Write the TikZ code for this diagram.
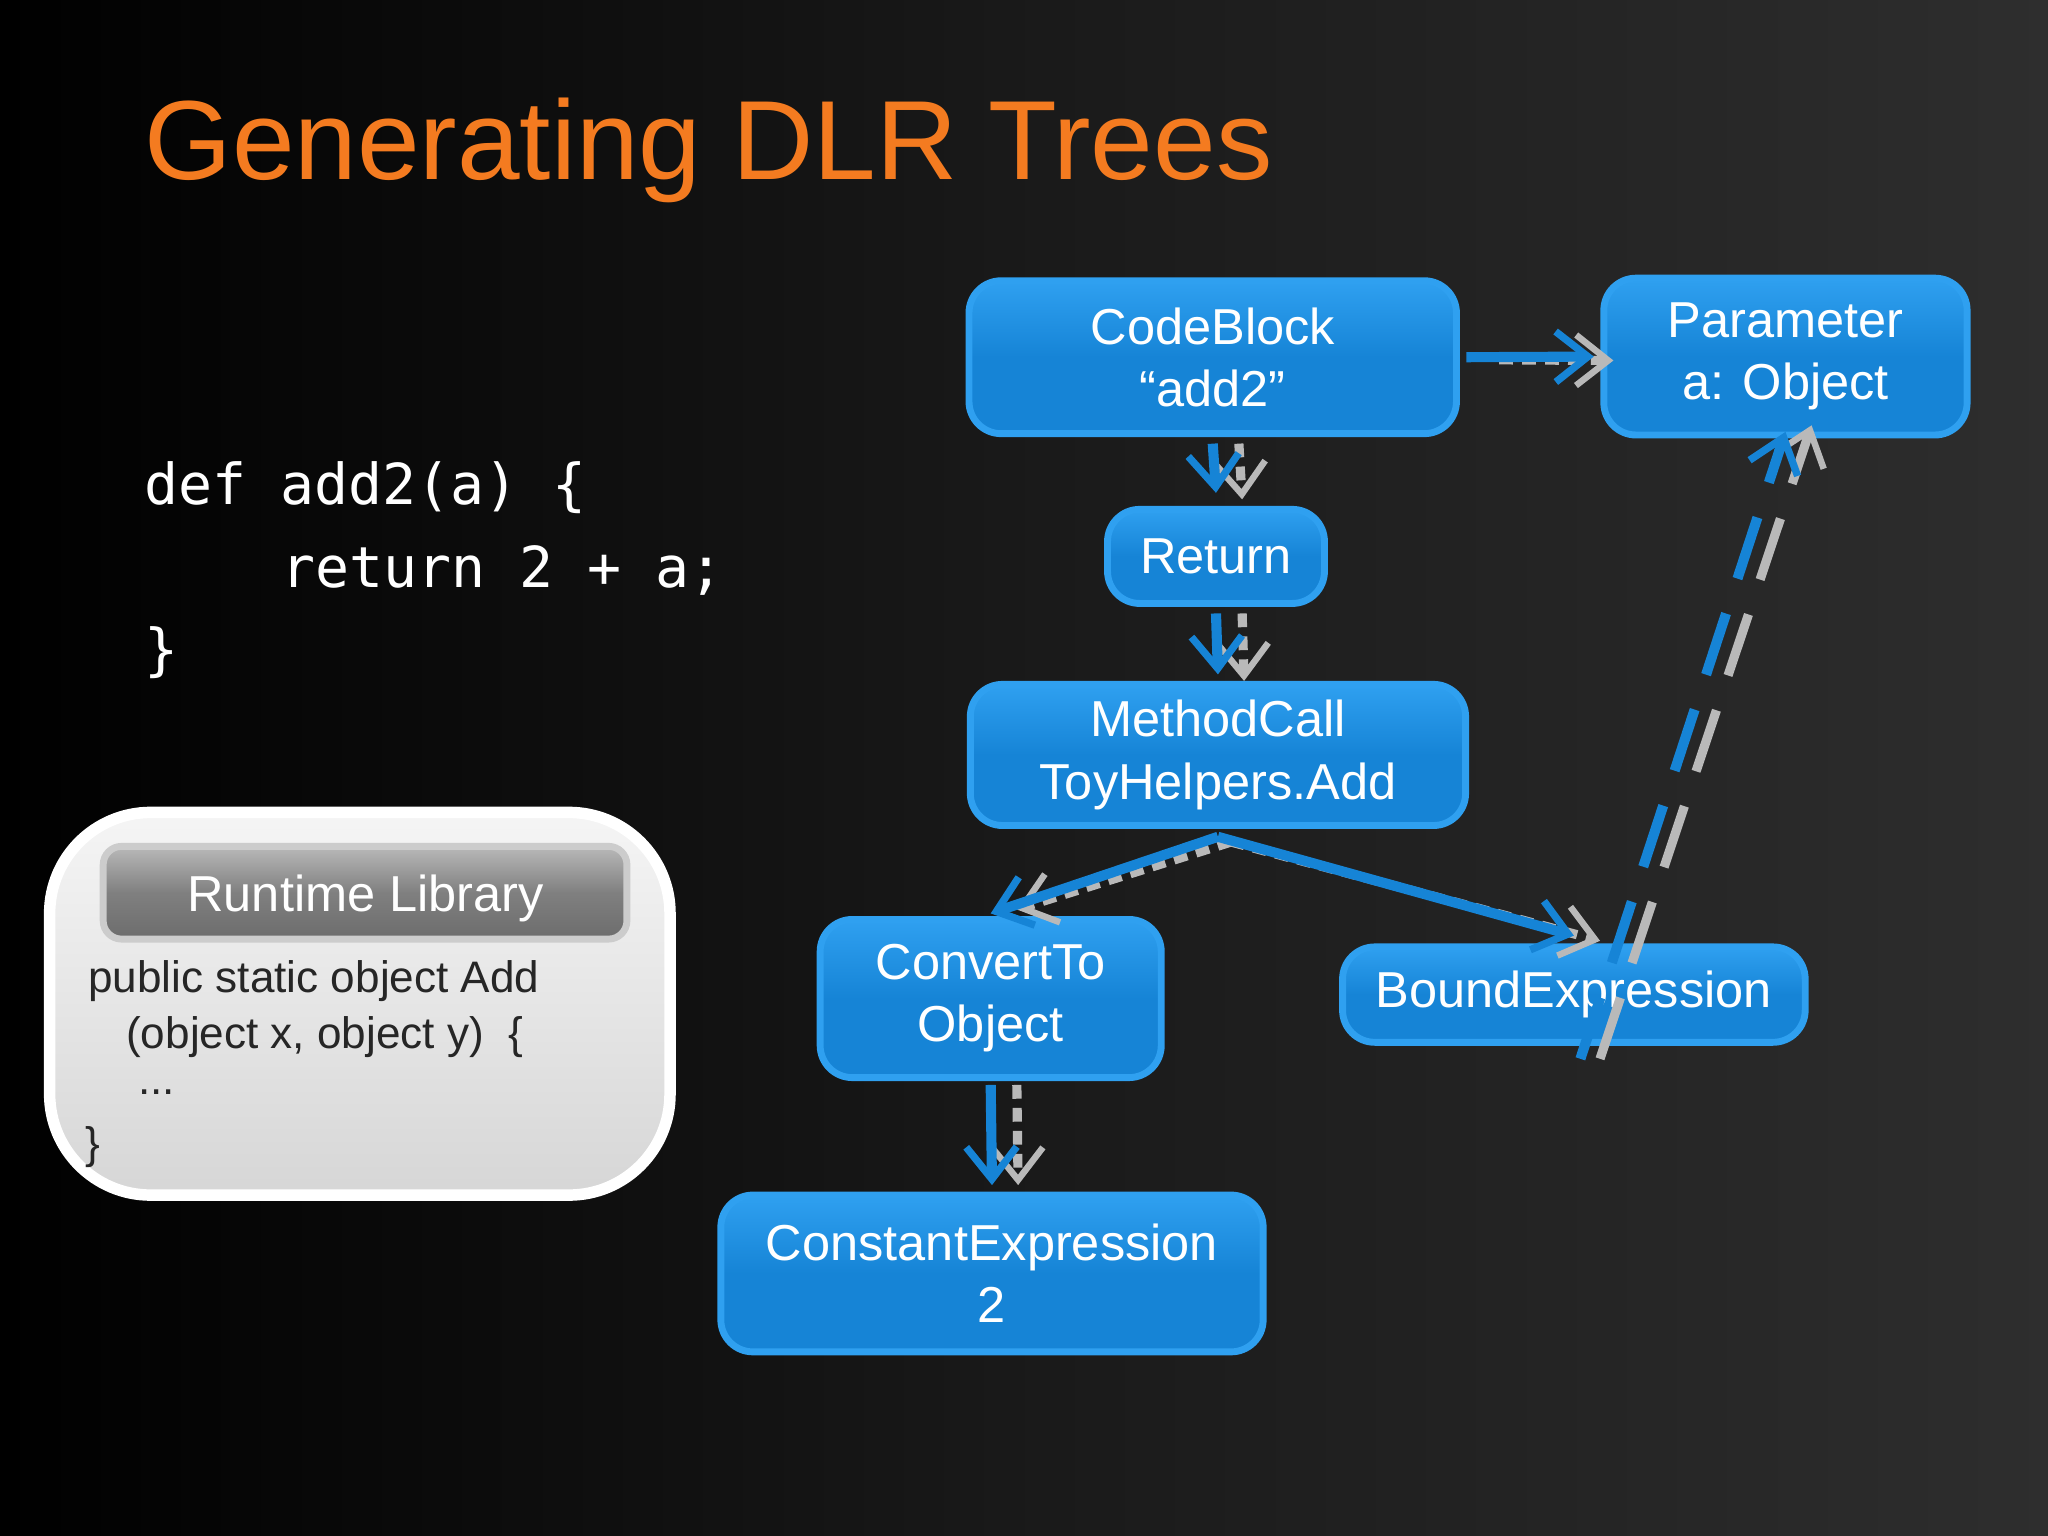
\documentclass[tikz,border=0pt]{standalone}
\usepackage{fontspec}
\setmainfont{Liberation Sans}
\newfontfamily\mono{DejaVu Sans Mono}
\usetikzlibrary{arrows.meta,shadings}
\definecolor{bx}{HTML}{1684D6}
\definecolor{bxl}{HTML}{2FA0F0}
\definecolor{ttl}{HTML}{F47B20}
\begin{document}
\begin{tikzpicture}[x=0.01cm,y=-0.01cm,
  box/.style={draw=bxl,line width=1.5pt,rounded corners=7pt,top color=bxl,bottom color=bx,middle color=bx,text=white,font=\fontsize{11}{13.5}\selectfont,align=center,inner sep=0pt},
  arr/.style={draw=bx,line width=2.2pt,-{Straight Barb[length=7pt,width=11pt,line width=1.6pt]}},
  shd/.style={draw=gray!55,line width=2pt,dash pattern=on 3pt off 2pt,-{Straight Barb[length=7pt,width=11pt,line width=1.4pt]}},
  code/.style={anchor=west,inner sep=0pt,text=white,font=\mono\fontsize{12.3}{15}\selectfont},
  lib/.style={anchor=west,inner sep=0pt,text=black!85,font=\fontsize{9.6}{12}\selectfont}]
\useasboundingbox (0,0) rectangle (1568,1176);
\shade[left color=black,right color=black!82!white,middle color=black!90!white] (0,0) rectangle (1568,1176);
\node[anchor=west,inner sep=0pt,text=ttl,font=\fontsize{24.5}{28}\selectfont] (title) at (110,115) {Generating DLR Trees};
\node[code] (c1) at (110,373) {def add2(a) \{};
\node[code] (c2) at (215,437) {return 2 + a;};
\node[code] (c3) at (110,500) {\}};
% runtime library
\path[draw=white,line width=2.5pt,rounded corners=22pt,top color=gray!8,bottom color=gray!32] (38,622) rectangle (513,915);
\path[draw=gray!40,line width=1.5pt,rounded corners=4pt,top color=gray!55,bottom color=gray!85!black,middle color=gray] (79,648) rectangle (480,719);
\node[text=white,font=\fontsize{11}{13}\selectfont] (rlh) at (280,688) {Runtime Library};
\node[lib] (l1) at (67,751) {public static object Add};
\node[lib] (l2) at (96,794) {(object x, object y)\ \ \{};
\node[lib] (l3) at (105,836) {...};
\node[lib] (l4) at (65,878) {\}};
% tree nodes
\node[box,minimum width=3.73cm,minimum height=1.17cm] (cb) at (928.5,273.5) {CodeBlock\\“add2”};
\node[box,minimum width=2.78cm,minimum height=1.2cm] (pa) at (1367,273) {Parameter\\a: Object};
\node[box,minimum width=1.66cm,minimum height=0.72cm] (re) at (931,426) {Return};
\node[box,minimum width=3.79cm,minimum height=1.08cm] (mc) at (932.5,578) {MethodCall\\ToyHelpers.Add};
\node[box,minimum width=2.61cm,minimum height=1.21cm] (co) at (758.5,764.5) {ConvertTo\\Object};
\node[box,minimum width=3.54cm,minimum height=0.73cm] (be) at (1205,761.5) {BoundExpression};
\node[box,minimum width=4.15cm,minimum height=1.2cm] (ce) at (759.5,975) {ConstantExpression\\2};
% arrows (shadow then blue)
\draw[shd] ([xshift=0.3cm,yshift=-0.02cm]cb.east) -- ([xshift=0.1cm,yshift=-0.03cm]pa.west);
\draw[arr] ([xshift=0.05cm]cb.east) -- ([xshift=-0.05cm]pa.west);
\draw[shd] ([xshift=0.2cm,yshift=-0.05cm]cb.south) -- ([xshift=0.2cm,yshift=0.05cm]re.north);
\draw[arr] ([yshift=-0.05cm]cb.south) -- ([yshift=0.1cm]re.north);
\draw[shd] ([xshift=0.2cm,yshift=-0.05cm]re.south) -- ([xshift=0.2cm,yshift=0.0cm]mc.north);
\draw[arr] ([yshift=-0.05cm]re.south) -- ([yshift=0.05cm]mc.north);
\draw[shd] ([xshift=0.1cm,yshift=-0.1cm]mc.south) -- ([xshift=0.2cm,yshift=0.05cm]co.north);
\draw[arr] ([yshift=-0.06cm]mc.south) -- ([yshift=0.02cm]co.north);
\draw[shd] ([xshift=0.1cm,yshift=-0.1cm]mc.south) -- ([xshift=0.2cm,yshift=0.02cm]be.north);
\draw[arr] ([yshift=-0.06cm]mc.south) -- ([yshift=0.06cm]be.north);
\draw[shd] ([xshift=0.2cm,yshift=-0.03cm]co.south) -- ([xshift=0.2cm,yshift=0.05cm]ce.north);
\draw[arr] ([yshift=-0.03cm]co.south) -- ([yshift=0.05cm]ce.north);
\draw[shd,dash pattern=on 14pt off 8pt] ([xshift=0.2cm,yshift=-0.1cm]be.south) -- ([xshift=0.2cm,yshift=0.1cm]pa.south);
\draw[arr,dash pattern=on 14pt off 8pt] ([xshift=0.05cm,yshift=-0.1cm]be.south) -- ([yshift=0.05cm]pa.south);
\end{tikzpicture}
\end{document}
